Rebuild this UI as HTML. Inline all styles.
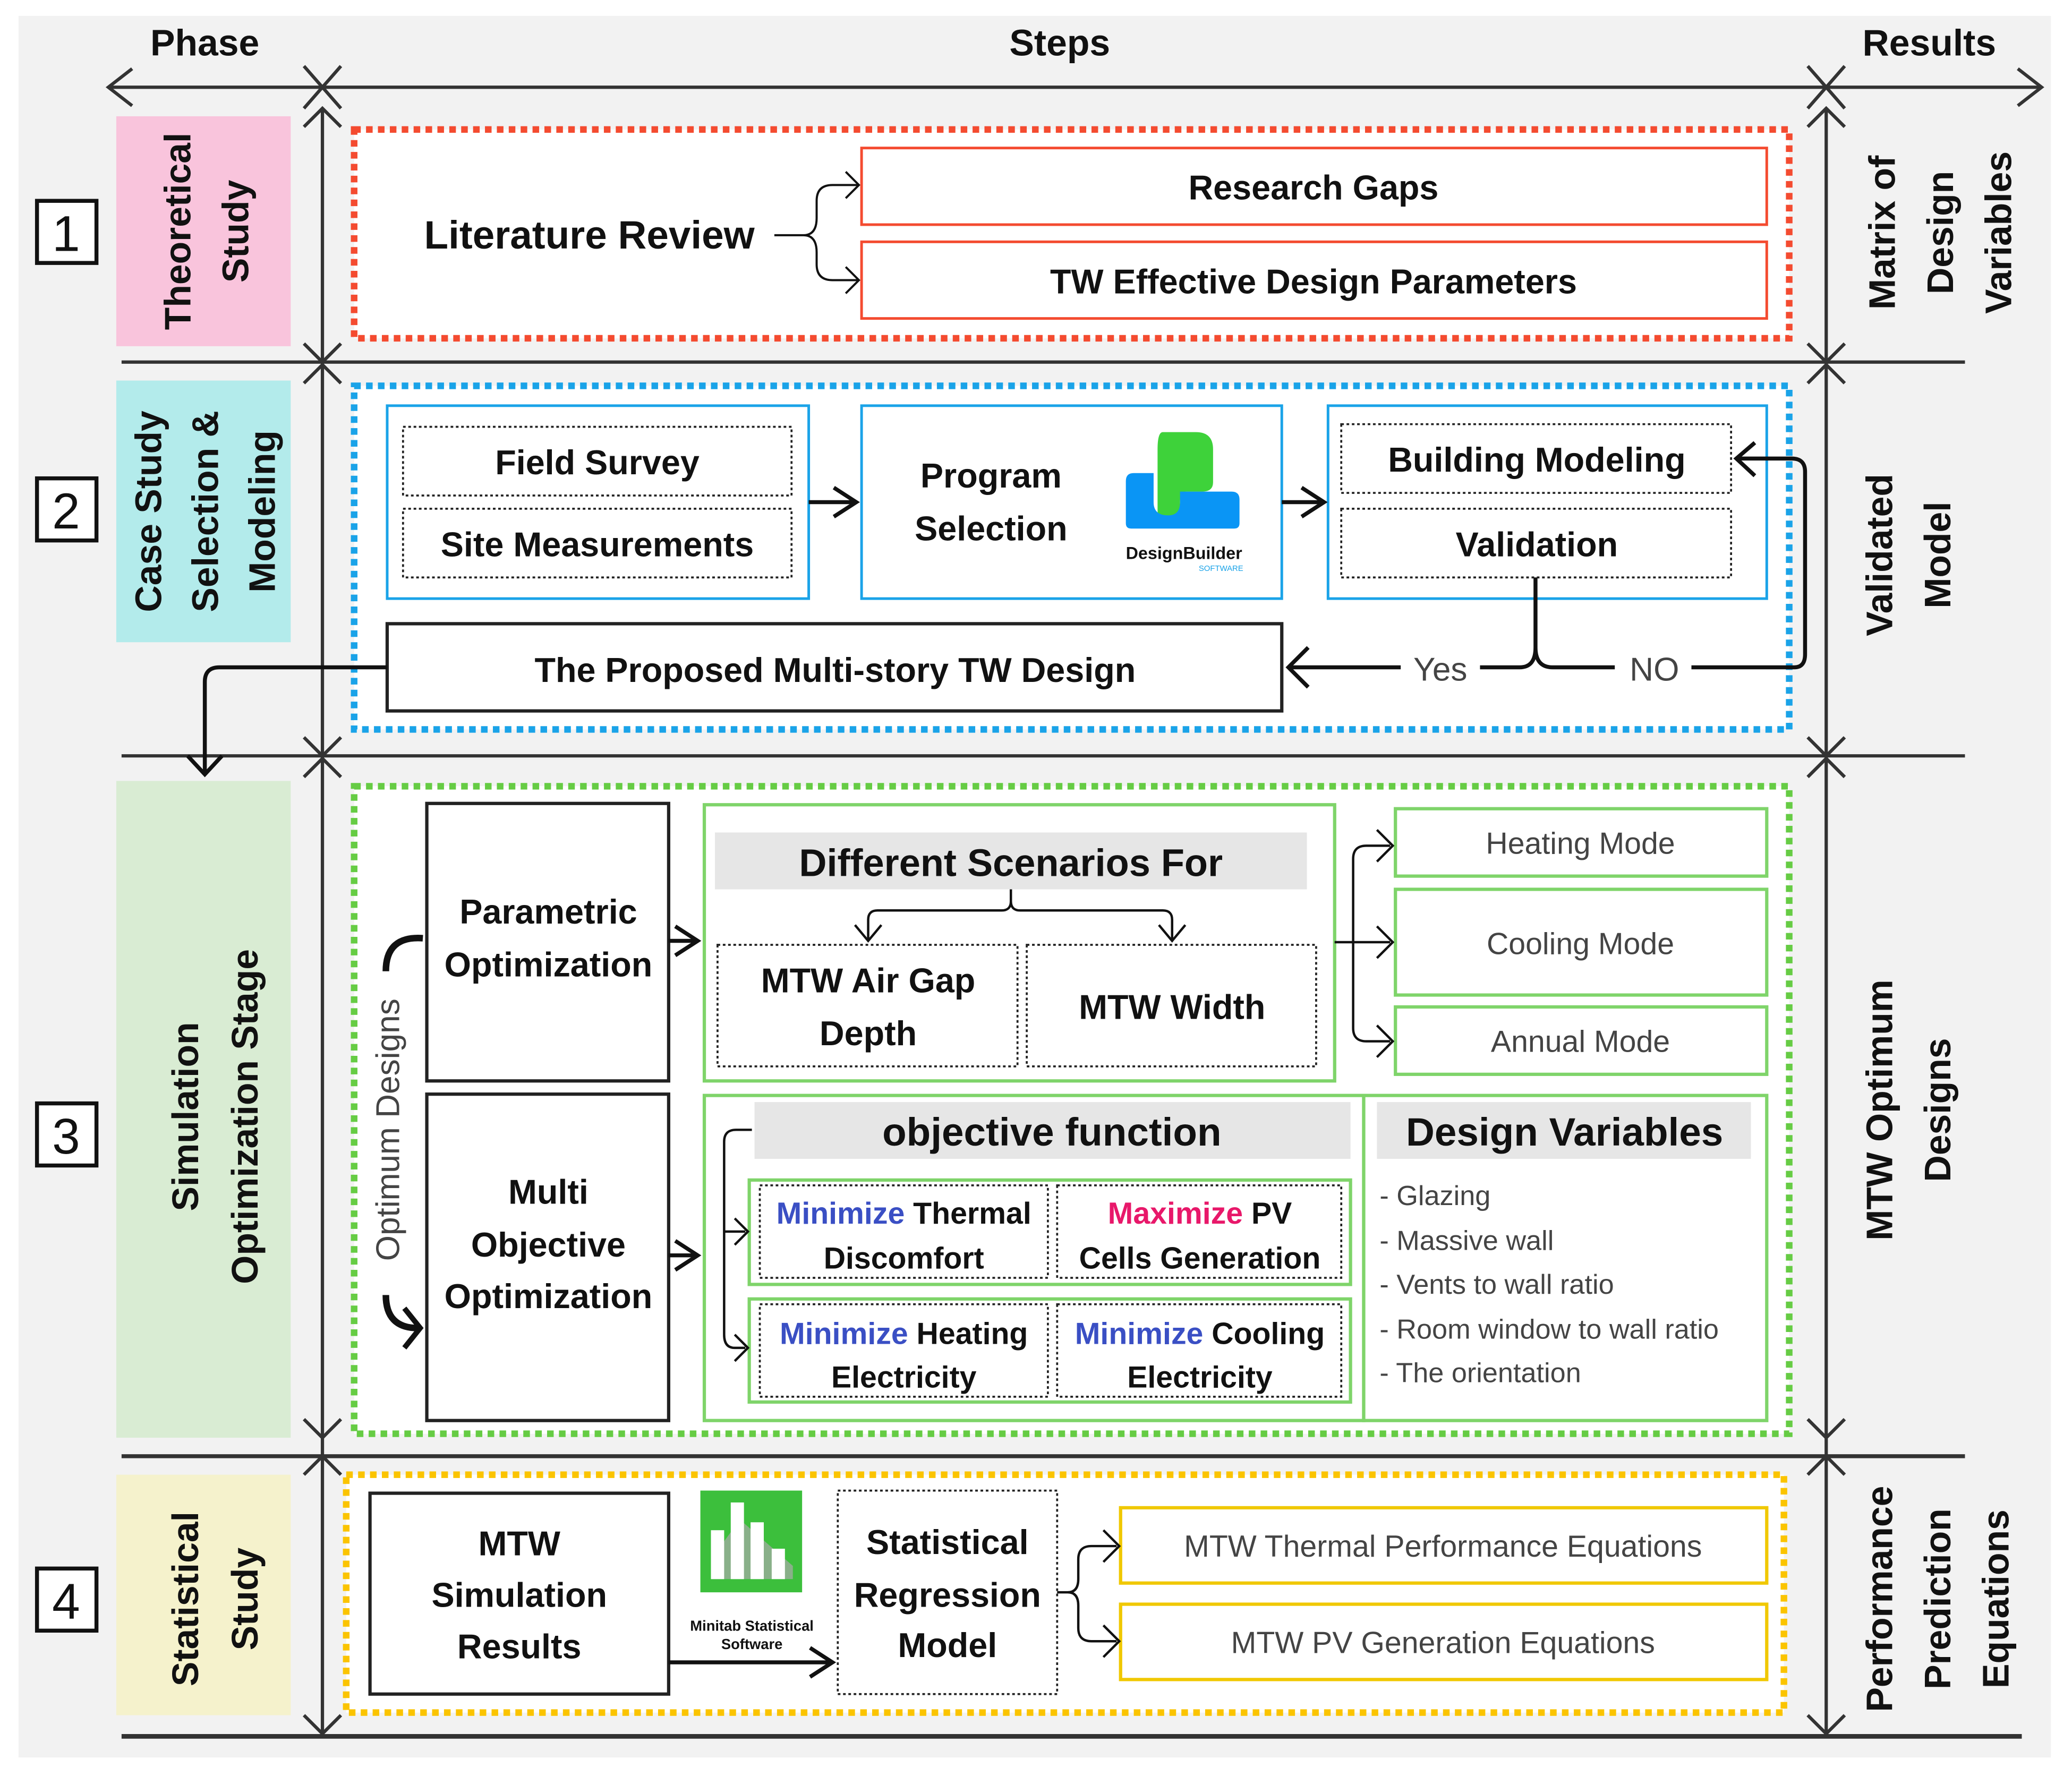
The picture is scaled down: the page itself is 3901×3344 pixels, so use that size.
<!DOCTYPE html>
<html><head><meta charset="utf-8"><style>
html,body{margin:0;padding:0;background:#fff}
svg{display:block}
text{font-family:"Liberation Sans",sans-serif;fill:#111}
.b{font-weight:bold}
</style></head><body>
<svg width="3901" height="3344" viewBox="0 0 1568 1344" preserveAspectRatio="none" xmlns="http://www.w3.org/2000/svg">
<defs>
<marker id="ahb" markerWidth="22" markerHeight="26" refX="19" refY="13" orient="auto" markerUnits="userSpaceOnUse"><path d="M2,2 L19,13 L2,24" fill="none" stroke="#111" stroke-width="3"/></marker>
</defs>
<rect x="14" y="12" width="1538" height="1318" fill="#f2f2f2"/>
<text x="155" y="42" font-size="28" class="b" text-anchor="middle">Phase</text>
<text x="802" y="42" font-size="28" class="b" text-anchor="middle">Steps</text>
<text x="1460" y="42" font-size="28" class="b" text-anchor="middle">Results</text>
<g stroke="#333" stroke-width="2.5" fill="none">
<line x1="82" y1="66" x2="1545" y2="66"/>
<path d="M100,52 L82,66 L100,80"/><path d="M1527,52 L1545,66 L1527,80"/>
<path d="M230,50 L258,82 M258,50 L230,82"/><path d="M1368,50 L1396,82 M1396,50 L1368,82"/>
<line x1="244" y1="82" x2="244" y2="1312"/><line x1="1382" y1="82" x2="1382" y2="1312"/>
<line x1="92" y1="274" x2="1487" y2="274"/><line x1="92" y1="572" x2="1487" y2="572"/>
<line x1="92" y1="1102" x2="1487" y2="1102" stroke-width="3"/><line x1="92" y1="1314" x2="1530" y2="1314" stroke-width="3.5"/>
</g>
<g stroke="#333" stroke-width="2.5" fill="none">
<path d="M230,96 L244,82 L258,96 M230,260 L244,274 L258,260 M230,290 L244,276 L258,290 M230,558 L244,572 L258,558 M230,588 L244,574 L258,588 M230,1074 L244,1088 L258,1074 M230,1116 L244,1102 L258,1116 M230,1298 L244,1312 L258,1298"/>
<path d="M1368,96 L1382,82 L1396,96 M1368,260 L1382,274 L1396,260 M1368,290 L1382,276 L1396,290 M1368,558 L1382,572 L1396,558 M1368,588 L1382,574 L1396,588 M1368,1074 L1382,1088 L1396,1074 M1368,1116 L1382,1102 L1396,1116 M1368,1298 L1382,1312 L1396,1298"/>
</g>
<rect x="88" y="88" width="132" height="174" fill="#f9c4dc"/>
<rect x="88" y="288" width="132" height="198" fill="#b3ebeb"/>
<rect x="88" y="591" width="132" height="497" fill="#d9ecd3"/>
<rect x="88" y="1116" width="132" height="182" fill="#f5f2cc"/>
<g font-size="28" class="b">
<text transform="translate(144,175) rotate(-90)" text-anchor="middle">Theoretical</text>
<text transform="translate(188,175) rotate(-90)" text-anchor="middle">Study</text>
<text transform="translate(122,387) rotate(-90)" text-anchor="middle">Case Study</text>
<text transform="translate(165,387) rotate(-90)" text-anchor="middle">Selection &amp;</text>
<text transform="translate(208,387) rotate(-90)" text-anchor="middle">Modeling</text>
<text transform="translate(150,845) rotate(-90)" text-anchor="middle">Simulation</text>
<text transform="translate(195,845) rotate(-90)" text-anchor="middle">Optimization Stage</text>
<text transform="translate(150,1210) rotate(-90)" text-anchor="middle">Statistical</text>
<text transform="translate(195,1210) rotate(-90)" text-anchor="middle">Study</text>
<text transform="translate(1434,176) rotate(-90)" text-anchor="middle">Matrix of</text>
<text transform="translate(1478,176) rotate(-90)" text-anchor="middle">Design</text>
<text transform="translate(1522,176) rotate(-90)" text-anchor="middle">Variables</text>
<text transform="translate(1432,420) rotate(-90)" text-anchor="middle">Validated</text>
<text transform="translate(1476,420) rotate(-90)" text-anchor="middle">Model</text>
<text transform="translate(1432,840) rotate(-90)" text-anchor="middle">MTW Optimum</text>
<text transform="translate(1476,840) rotate(-90)" text-anchor="middle">Designs</text>
<text transform="translate(1432,1210) rotate(-90)" text-anchor="middle">Performance</text>
<text transform="translate(1476,1210) rotate(-90)" text-anchor="middle">Prediction</text>
<text transform="translate(1520,1210) rotate(-90)" text-anchor="middle">Equations</text>
</g>
<g fill="#fff" stroke="#111" stroke-width="3">
<rect x="28" y="152" width="45" height="47"/><rect x="28" y="362" width="45" height="47"/>
<rect x="28" y="835" width="45" height="47"/><rect x="28" y="1187" width="45" height="47"/>
</g>
<g font-size="38" text-anchor="middle"><text x="50" y="190">1</text><text x="50" y="400">2</text><text x="50" y="873">3</text><text x="50" y="1225">4</text></g>

<rect x="268" y="98" width="1086" height="158" fill="#fff" stroke="#f44b30" stroke-width="5" stroke-dasharray="5,4"/>
<text x="446" y="188" font-size="30" class="b" text-anchor="middle">Literature Review</text>
<rect x="652" y="112" width="685" height="58" fill="#fff" stroke="#f44b30" stroke-width="2"/>
<rect x="652" y="183" width="685" height="58" fill="#fff" stroke="#f44b30" stroke-width="2"/>
<text x="994" y="151" font-size="26" class="b" text-anchor="middle">Research Gaps</text>
<text x="994" y="222" font-size="26" class="b" text-anchor="middle">TW Effective Design Parameters</text>
<path d="M586,178 L608,178 Q618,178 618,165 L618,152 Q618,140 630,140 L650,140 M608,178 Q618,178 618,191 L618,200 Q618,212 630,212 L650,212" fill="none" stroke="#111" stroke-width="1.6"/>
<path d="M640,130 L650,140 L640,150 M640,202 L650,212 L640,222" fill="none" stroke="#111" stroke-width="1.6"/>

<rect x="268" y="292" width="1086" height="260" fill="#fff" stroke="#1aa3e8" stroke-width="5" stroke-dasharray="5,4"/>
<g fill="#fff" stroke="#1aa3e8" stroke-width="2">
<rect x="293" y="307" width="319" height="146"/><rect x="652" y="307" width="318" height="146"/><rect x="1005" y="307" width="332" height="146"/>
</g>
<g fill="none" stroke="#222" stroke-width="1.5" stroke-dasharray="2,2">
<rect x="305" y="323" width="294" height="52"/><rect x="305" y="385" width="294" height="52"/>
<rect x="1015" y="321" width="295" height="52"/><rect x="1015" y="385" width="295" height="52"/>
</g>
<g font-size="26" class="b" text-anchor="middle">
<text x="452" y="359">Field Survey</text><text x="452" y="421">Site Measurements</text>
<text x="750" y="369">Program</text><text x="750" y="409">Selection</text>
<text x="1163" y="357">Building Modeling</text><text x="1163" y="421">Validation</text>
</g>
<path d="M880,327 L905,327 Q918,327 918,340 L918,365 Q918,372 910,372 L898,372 Q893,372 893,380 L893,386 Q893,393 886,393 L880,393 Q876,393 876,386 L876,340 Q876,327 880,327 Z" fill="#3ed23a"/>
<path d="M858,358 L873,358 L873,380 Q873,390 884,390 Q893,390 893,380 L893,372 L932,372 Q938,372 938,378 L938,396 Q938,400 934,400 L856,400 Q852,400 852,396 L852,364 Q852,358 858,358 Z" fill="#0a95f5"/>
<text x="896" y="423" font-size="13" class="b" text-anchor="middle">DesignBuilder</text>
<text x="924" y="432" font-size="6" style="fill:#1aa3e8" text-anchor="middle">SOFTWARE</text>
<line x1="612" y1="380" x2="648" y2="380" stroke="#111" stroke-width="3" marker-end="url(#ahb)"/>
<line x1="970" y1="380" x2="1002" y2="380" stroke="#111" stroke-width="3" marker-end="url(#ahb)"/>
<rect x="293" y="472" width="677" height="66" fill="#fff" stroke="#222" stroke-width="2.5"/>
<text x="632" y="516" font-size="26" class="b" text-anchor="middle">The Proposed Multi-story TW Design</text>
<path d="M1162,437 L1162,490 Q1162,505 1150,505 L1120,505 M1162,490 Q1162,505 1175,505 L1222,505 M1280,505 L1358,505 Q1366,505 1366,495 L1366,357 Q1366,347 1356,347 L1316,347" fill="none" stroke="#111" stroke-width="3"/>
<path d="M1328,335 L1314,347 L1328,360" fill="none" stroke="#111" stroke-width="3"/>
<line x1="1060" y1="505" x2="976" y2="505" stroke="#111" stroke-width="3"/>
<path d="M990,490 L975,505 L990,520" fill="none" stroke="#111" stroke-width="3"/>
<text x="1090" y="515" font-size="25" text-anchor="middle" style="fill:#444">Yes</text>
<text x="1252" y="515" font-size="25" text-anchor="middle" style="fill:#444">NO</text>
<path d="M293,505 L166,505 Q155,505 155,516 L155,585" fill="none" stroke="#111" stroke-width="3"/>
<path d="M142,572 L155,586 L168,572" fill="none" stroke="#111" stroke-width="3"/>

<rect x="268" y="595" width="1086" height="490" fill="#fff" stroke="#66cc44" stroke-width="5" stroke-dasharray="5,4"/>
<g fill="#fff" stroke="#222" stroke-width="2.5"><rect x="323" y="608" width="183" height="210"/><rect x="323" y="828" width="183" height="247"/></g>
<g font-size="26" class="b" text-anchor="middle">
<text x="415" y="699">Parametric</text><text x="415" y="739">Optimization</text>
<text x="415" y="911">Multi</text><text x="415" y="951">Objective</text><text x="415" y="990">Optimization</text>
</g>
<text transform="translate(302,855) rotate(-90)" font-size="25" text-anchor="middle" style="fill:#444">Optimum Designs</text>
<path d="M320,710 Q292,708 292,735" fill="none" stroke="#111" stroke-width="5"/>
<path d="M292,980 Q292,1005 316,1005" fill="none" stroke="#111" stroke-width="5"/>
<path d="M306,990 L318,1005 L306,1020" fill="none" stroke="#111" stroke-width="4"/>
<line x1="506" y1="712" x2="528" y2="712" stroke="#111" stroke-width="3" marker-end="url(#ahb)"/>
<line x1="506" y1="950" x2="528" y2="950" stroke="#111" stroke-width="3" marker-end="url(#ahb)"/>
<g fill="#fff" stroke="#7fd46a" stroke-width="2.5">
<rect x="533" y="609" width="477" height="209"/>
<rect x="1056" y="612" width="281" height="51"/><rect x="1056" y="673" width="281" height="80"/><rect x="1056" y="762" width="281" height="51"/>
<rect x="533" y="829" width="499" height="246"/><rect x="1032" y="829" width="305" height="246"/>
<rect x="567" y="893" width="455" height="79"/><rect x="567" y="983" width="455" height="78"/>
</g>
<rect x="541" y="630" width="448" height="43" fill="#e6e6e6"/>
<rect x="571" y="834" width="451" height="43" fill="#e6e6e6"/>
<rect x="1042" y="834" width="283" height="43" fill="#e6e6e6"/>
<g fill="none" stroke="#222" stroke-width="1.5" stroke-dasharray="2,2">
<rect x="543" y="715" width="227" height="92"/><rect x="777" y="715" width="219" height="92"/>
<rect x="575" y="897" width="218" height="70"/><rect x="800" y="897" width="215" height="70"/>
<rect x="575" y="987" width="218" height="70"/><rect x="800" y="987" width="215" height="70"/>
</g>
<text x="765" y="663" font-size="29" class="b" text-anchor="middle">Different Scenarios For</text>
<text x="796" y="867" font-size="30" class="b" text-anchor="middle">objective function</text>
<text x="1184" y="867" font-size="30" class="b" text-anchor="middle">Design Variables</text>
<g font-size="26" class="b" text-anchor="middle">
<text x="657" y="751">MTW Air Gap</text><text x="657" y="791">Depth</text><text x="887" y="771">MTW Width</text>
</g>
<path d="M765,673 L765,682 Q765,689 758,689 L664,689 Q657,689 657,696 L657,711 M765,682 Q765,689 772,689 L880,689 Q887,689 887,696 L887,711" fill="none" stroke="#111" stroke-width="1.8"/>
<path d="M647,700 L657,712 L667,700 M877,700 L887,712 L897,700" fill="none" stroke="#111" stroke-width="1.8"/>
<path d="M1010,713 L1052,713 M1024,713 L1024,650 Q1024,640 1034,640 L1052,640 M1024,713 L1024,778 Q1024,788 1034,788 L1052,788" fill="none" stroke="#111" stroke-width="1.8"/>
<path d="M1042,628 L1054,640 L1042,652 M1042,701 L1054,713 L1042,725 M1042,776 L1054,788 L1042,800" fill="none" stroke="#111" stroke-width="1.8"/>
<g font-size="23" text-anchor="middle">
<text x="1196" y="646" style="fill:#444">Heating Mode</text><text x="1196" y="722" style="fill:#444">Cooling Mode</text><text x="1196" y="796" style="fill:#444">Annual Mode</text>
</g>
<g font-size="23" class="b" text-anchor="middle">
<text x="684" y="926"><tspan style="fill:#3a4fc4">Minimize</tspan> Thermal</text><text x="684" y="960">Discomfort</text>
<text x="908" y="926"><tspan style="fill:#e8186a">Maximize</tspan> PV</text><text x="908" y="960">Cells  Generation</text>
<text x="684" y="1017"><tspan style="fill:#3a4fc4">Minimize</tspan> Heating</text><text x="684" y="1050">Electricity</text>
<text x="908" y="1017"><tspan style="fill:#3a4fc4">Minimize</tspan> Cooling</text><text x="908" y="1050">Electricity</text>
</g>
<path d="M569,855 L557,855 Q548,855 548,864 L548,1010 Q548,1020 556,1020 L564,1020 M548,932 L564,932" fill="none" stroke="#111" stroke-width="1.8"/>
<path d="M556,922 L566,932 L556,942 M556,1010 L566,1020 L556,1030" fill="none" stroke="#111" stroke-width="1.8"/>
<g font-size="21">
<text x="1044" y="912" style="fill:#444">-  Glazing</text><text x="1044" y="946" style="fill:#444">-  Massive wall</text>
<text x="1044" y="979" style="fill:#444">-  Vents to wall ratio</text><text x="1044" y="1013" style="fill:#444">-  Room window to wall ratio</text>
<text x="1044" y="1046" style="fill:#444">-  The orientation</text>
</g>

<rect x="262" y="1116" width="1088" height="180" fill="#fff" stroke="#fbc400" stroke-width="5" stroke-dasharray="5,4"/>
<rect x="280" y="1130" width="226" height="152" fill="#fff" stroke="#222" stroke-width="2.5"/>
<g font-size="26" class="b" text-anchor="middle">
<text x="393" y="1177">MTW</text><text x="393" y="1216">Simulation</text><text x="393" y="1255">Results</text>
<text x="717" y="1176">Statistical</text><text x="717" y="1216">Regression</text><text x="717" y="1254">Model</text>
</g>
<rect x="530" y="1128" width="77" height="77" fill="#3cbf3c"/>
<path d="M538,1180 L560,1150 L600,1185 L600,1195 L538,1195 Z" fill="#aaa" opacity="0.7"/>
<g fill="#fff"><rect x="538" y="1158" width="10" height="37"/><rect x="553" y="1137" width="10" height="58"/><rect x="568" y="1152" width="10" height="43"/><rect x="584" y="1172" width="10" height="23"/></g>
<text x="569" y="1234" font-size="11" class="b" text-anchor="middle">Minitab Statistical</text>
<text x="569" y="1248" font-size="11" class="b" text-anchor="middle">Software</text>
<line x1="506" y1="1258" x2="630" y2="1258" stroke="#111" stroke-width="3" marker-end="url(#ahb)"/>
<rect x="634" y="1128" width="166" height="154" fill="none" stroke="#222" stroke-width="1.5" stroke-dasharray="2,2"/>
<rect x="848" y="1141" width="489" height="57" fill="#fff" stroke="#f0c800" stroke-width="2.5"/>
<rect x="848" y="1214" width="489" height="57" fill="#fff" stroke="#f0c800" stroke-width="2.5"/>
<text x="1092" y="1178" font-size="23" text-anchor="middle" style="fill:#444">MTW Thermal Performance Equations</text>
<text x="1092" y="1251" font-size="23" text-anchor="middle" style="fill:#444">MTW PV Generation Equations</text>
<path d="M800,1205 L808,1205 Q816,1205 816,1195 L816,1180 Q816,1170 826,1170 L845,1170 M808,1205 Q816,1205 816,1215 L816,1232 Q816,1242 826,1242 L845,1242" fill="none" stroke="#111" stroke-width="1.8"/>
<path d="M835,1158 L847,1170 L835,1182 M835,1230 L847,1242 L835,1254" fill="none" stroke="#111" stroke-width="1.8"/>
</svg>
</body></html>
